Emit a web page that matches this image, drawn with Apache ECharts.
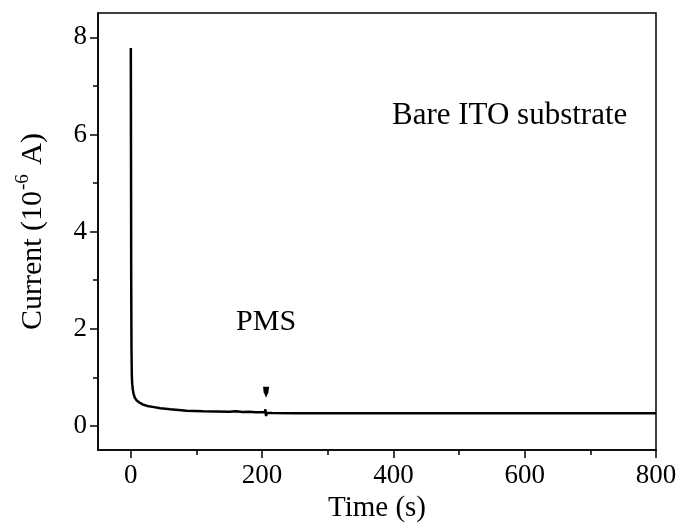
<!DOCTYPE html>
<html>
<head>
<meta charset="utf-8">
<script src="https://cdn.jsdelivr.net/npm/echarts@6/dist/echarts.min.js"></script>
<style>html,body{margin:0;padding:0;background:#fff;}#c{width:682px;height:528px;}</style>
</head>
<body>
<div id="c"></div>
<script>
// ---- data ----
var timeS = [0, 0.3, 0.6, 1, 1.5, 2, 3, 4, 6, 9, 13, 18, 25, 33, 45, 60, 85, 110, 130, 150, 160, 170, 180, 190, 200, 204, 205, 206, 207, 208, 215, 250, 300, 400, 500, 600, 700, 800];
var currentA = [7.78, 5.5, 3.0, 1.6, 1.05, 0.88, 0.75, 0.67, 0.58, 0.52, 0.48, 0.44, 0.41, 0.39, 0.36, 0.34, 0.31, 0.30, 0.295, 0.29, 0.30, 0.285, 0.29, 0.28, 0.28, 0.28, 0.34, 0.20, 0.27, 0.27, 0.265, 0.26, 0.26, 0.26, 0.26, 0.26, 0.26, 0.26];
var xMajorTicks = [0, 200, 400, 600, 800];
var xMinorTicks = [100, 300, 500, 700];
var yMajorTicks = [0, 2, 4, 6, 8];
var yMinorTicks = [1, 3, 5, 7];
var sampleLabel = 'Bare ITO substrate';
var sampleLabelAt = [577, 6.39];
var eventLabel = 'PMS';
var eventLabelAt = [206, 2.13];
var eventArrowAt = [206, 0.69];

var FONT = "'Liberation Serif', 'Times New Roman', serif";
var seriesData = timeS.map(function (t, i) { return [t, currentA[i]]; });

var chart = echarts.init(document.getElementById('c'), null, {renderer: 'canvas'});
chart.setOption({
  backgroundColor: '#fff',
  animation: false,
  grid: {left: 98, right: 26, top: 13, bottom: 72, show: true, borderColor: '#000', borderWidth: 1.5, backgroundColor: 'transparent'},
  xAxis: [{
    type: 'value', min: -50, max: 800,
    name: 'Time (s)', nameLocation: 'middle', nameGap: 38,
    nameTextStyle: {fontFamily: FONT, fontSize: 29, color: '#000'},
    axisLine: {show: true, onZero: false, lineStyle: {color: '#000', width: 1.5}},
    axisTick: {show: true, inside: false, length: 8, lineStyle: {color: '#000', width: 1.5}, customValues: xMajorTicks},
    axisLabel: {show: true, margin: 12, fontFamily: FONT, fontSize: 27, color: '#000', customValues: xMajorTicks},
    splitLine: {show: false}
  }, {
    type: 'value', min: -50, max: 800, position: 'bottom',
    axisLine: {show: false, onZero: false},
    axisTick: {show: true, inside: false, length: 5, lineStyle: {color: '#000', width: 1.5}, customValues: xMinorTicks},
    axisLabel: {show: false}, splitLine: {show: false}
  }],
  yAxis: [{
    type: 'value', min: -0.5, max: 8.5,
    name: '{n|Current (10}{s|-6}{n| A)}', nameLocation: 'middle', nameGap: 45,
    nameTextStyle: {
      color: '#000',
      rich: {
        n: {fontFamily: FONT, fontSize: 30, color: '#000'},
        s: {fontFamily: FONT, fontSize: 19, color: '#000', padding: [0, 2, 20, 1]}
      }
    },
    axisLine: {show: true, onZero: false, lineStyle: {color: '#000', width: 1.5}},
    axisTick: {show: true, inside: false, length: 8, lineStyle: {color: '#000', width: 1.5}, customValues: yMajorTicks},
    axisLabel: {show: true, margin: 11, fontFamily: FONT, fontSize: 27, color: '#000', customValues: yMajorTicks},
    splitLine: {show: false}
  }, {
    type: 'value', min: -0.5, max: 8.5, position: 'left',
    axisLine: {show: false, onZero: false},
    axisTick: {show: true, inside: false, length: 5, lineStyle: {color: '#000', width: 1.5}, customValues: yMinorTicks},
    axisLabel: {show: false}, splitLine: {show: false}
  }],
  series: [{
    type: 'line', xAxisIndex: 0, yAxisIndex: 0,
    data: seriesData, showSymbol: false, symbol: 'none',
    lineStyle: {color: '#000', width: 2.5}, z: 3,
    markPoint: {
      silent: true,
      data: [
        {coord: sampleLabelAt, symbol: 'circle', symbolSize: 0,
         label: {show: true, position: 'inside', formatter: sampleLabel, fontFamily: FONT, fontSize: 31, color: '#000'}},
        {coord: eventLabelAt, symbol: 'circle', symbolSize: 0,
         label: {show: true, position: 'inside', formatter: eventLabel, fontFamily: FONT, fontSize: 30, color: '#000'}},
        {coord: eventArrowAt, symbol: 'path://M0,0 L10,0 L9,10 L5,20 L1,10 Z', symbolSize: [6, 11],
         itemStyle: {color: '#000'}, label: {show: false}}
      ]
    }
  }]
});
</script>
</body>
</html>
